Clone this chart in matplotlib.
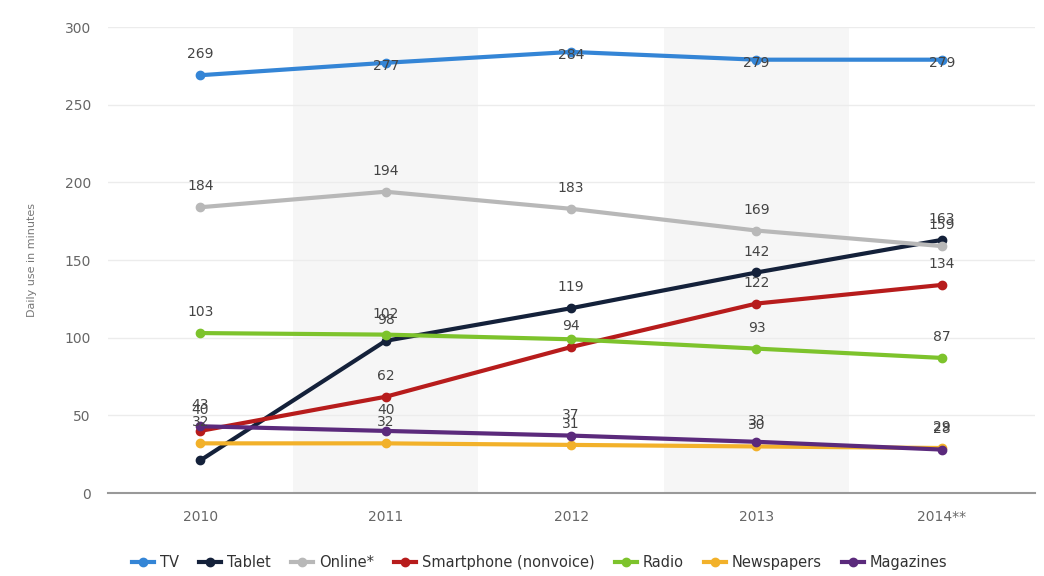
import matplotlib
matplotlib.use("Agg")
import matplotlib.pyplot as plt
from matplotlib.lines import Line2D

years = ["2010", "2011", "2012", "2013", "2014**"]

series_names = ["TV", "Tablet", "Online*", "Smartphone (nonvoice)", "Radio", "Newspapers", "Magazines"]
tv = [269, 277, 284, 279, 279]
tablet = [21, 98, 119, 142, 163]
online = [184, 194, 183, 169, 159]
smartphone = [40, 62, 94, 122, 134]
radio = [103, 102, 99, 93, 87]
newspapers = [32, 32, 31, 30, 29]
magazines = [43, 40, 37, 33, 28]

colors = ["#3485d6", "#14213a", "#b8b8b8", "#b71c1c", "#7dc32c", "#f2b12a", "#5b2a7c"]
values = [tv, tablet, online, smartphone, radio, newspapers, magazines]

# labels the chart hides because they collide with others
hidden = {("Tablet", 0), ("Radio", 2)}

fig = plt.figure(figsize=(10.44, 5.76), dpi=100)
ax = fig.add_axes([0.103, 0.144, 0.888, 0.809])

x = list(range(len(years)))

# alternating column bands
for i in x:
    if i % 2 == 1:
        ax.axvspan(i - 0.5, i + 0.5, color="#f6f6f6", zorder=0, lw=0)

for name, vals, c in zip(series_names, values, colors):
    ax.plot(x, vals, color=c, lw=3, marker="o", ms=6, zorder=3, label=name)
    for xi, v in zip(x, vals):
        if (name, xi) in hidden:
            continue
        if name == "TV" and xi > 0:
            # no room above the plot, label sits on the point
            ax.text(xi, v - 2, str(v), ha="center", va="center", fontsize=10,
                    color="#444444", zorder=4)
        else:
            ax.text(xi, v + 9, str(v), ha="center", va="bottom", fontsize=10,
                    color="#444444", zorder=4)

ax.set_xlim(-0.5, len(years) - 0.5)
ax.set_ylim(0, 300)
ax.set_yticks([0, 50, 100, 150, 200, 250, 300])
ax.set_xticks(x)
ax.set_xticklabels(years)
ax.tick_params(axis="both", length=0, labelsize=10, colors="#666666", pad=12)
ax.grid(axis="y", color="#ececec", lw=1)
ax.set_axisbelow(True)
for s in ["top", "right", "left"]:
    ax.spines[s].set_visible(False)
ax.spines["bottom"].set_color("#999999")
ax.spines["bottom"].set_linewidth(1.5)
ax.set_ylabel("Daily use in minutes", fontsize=8, color="#777777", labelpad=20)

handles = [Line2D([0], [0], color=c, lw=3, marker="o", ms=6) for c in colors]
fig.legend(handles, series_names, loc="lower center", ncol=7, frameon=False,
           bbox_to_anchor=(0.517, -0.012), fontsize=10.5, handlelength=1.5,
           handletextpad=0.4, columnspacing=1.4, labelcolor="#333333")

fig.savefig("out.png", dpi=100)
